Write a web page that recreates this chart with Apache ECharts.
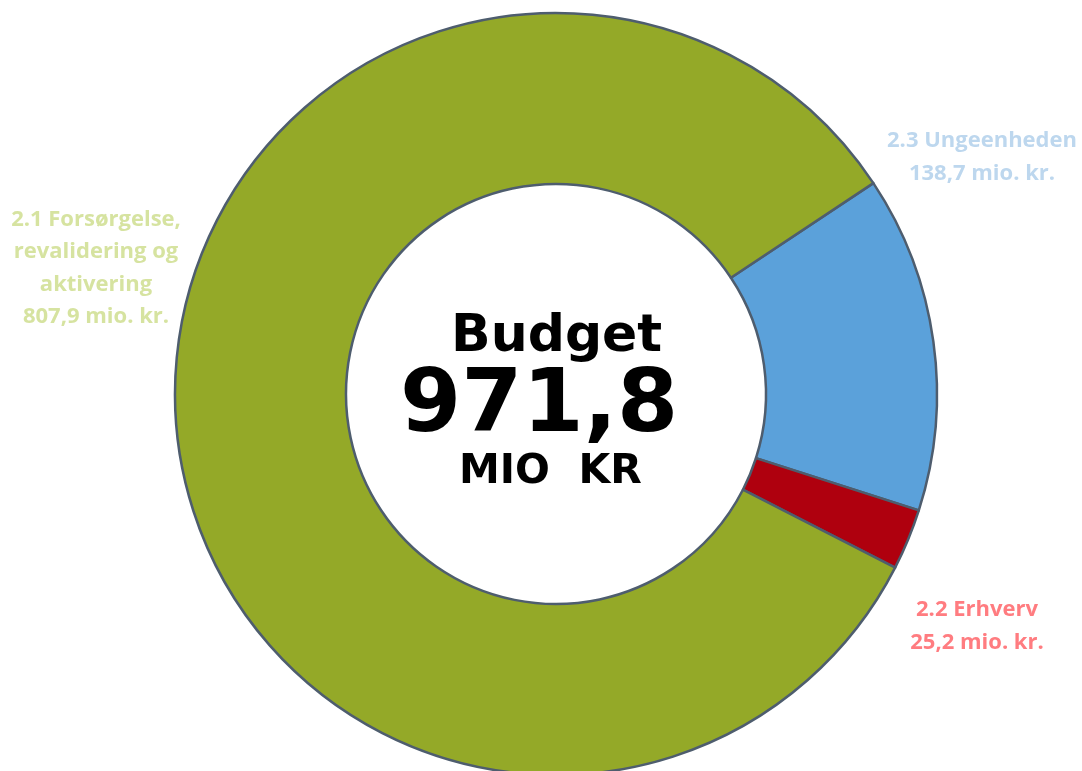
<!DOCTYPE html>
<html>
<head>
<meta charset="utf-8">
<script src="https://cdn.jsdelivr.net/npm/echarts@6/dist/echarts.min.js"></script>
<style>
  html, body { margin: 0; padding: 0; background: #fff; }
  #main { width: 1082px; height: 771px; }
</style>
</head>
<body>
<div id="main"></div>
<script>
let myChart = echarts.init(document.getElementById('main'));

// data (mio. kr.)
let names = ['2.3 Ungeenheden', '2.2 Erhverv', '2.1 Forsørgelse,\nrevalidering og\naktivering'];
let values = [138.7, 25.2, 807.9];
let colors = ['#5BA1DA', '#AF000E', '#94A928'];
let labelColors = ['#BDD7EE', '#FF7C80', '#D6E3A0'];
let total = '971,8';

// label anchor positions (px)
let labelPos = [[982, 157], [977, 626], [96, 268]];

let fmt = v => v.toFixed(1).replace('.', ',');

let option = {
    backgroundColor: '#fff',
    animation: false,
    series: [{
        type: 'pie',
        center: [556, 394],
        radius: [210, 381],
        startAngle: 33.6,
        clockwise: true,
        avoidLabelOverlap: false,
        itemStyle: {
            borderColor: '#4E5D6E',
            borderWidth: 2.5
        },
        label: {
            show: true,
            position: 'outside',
            fontFamily: 'Open Sans',
            fontWeight: 'bold',
            fontSize: 22,
            lineHeight: 32.5,
            align: 'center',
            formatter: p => p.name + '\n' + fmt(p.value) + ' mio. kr.'
        },
        labelLine: { show: false },
        labelLayout: p => ({
            x: labelPos[p.dataIndex][0],
            y: labelPos[p.dataIndex][1],
            align: 'center',
            verticalAlign: 'middle'
        }),
        data: names.map((n, i) => ({
            name: n,
            value: values[i],
            itemStyle: { color: colors[i] },
            label: { color: labelColors[i] }
        }))
    }],
    graphic: [
        {
            type: 'text', left: 451, top: 311,
            style: { text: 'Budget', font: 'bold 52px "DejaVu Sans"', fill: '#000' }
        },
        {
            type: 'text', left: 400, top: 364,
            style: { text: total, font: 'bold 88px "DejaVu Sans"', fill: '#000' }
        },
        {
            type: 'text', left: 459, top: 452,
            style: { text: 'MIO  KR', font: 'bold 41px "DejaVu Sans"', fill: '#000' }
        }
    ]
};

myChart.setOption(option);
</script>
</body>
</html>
